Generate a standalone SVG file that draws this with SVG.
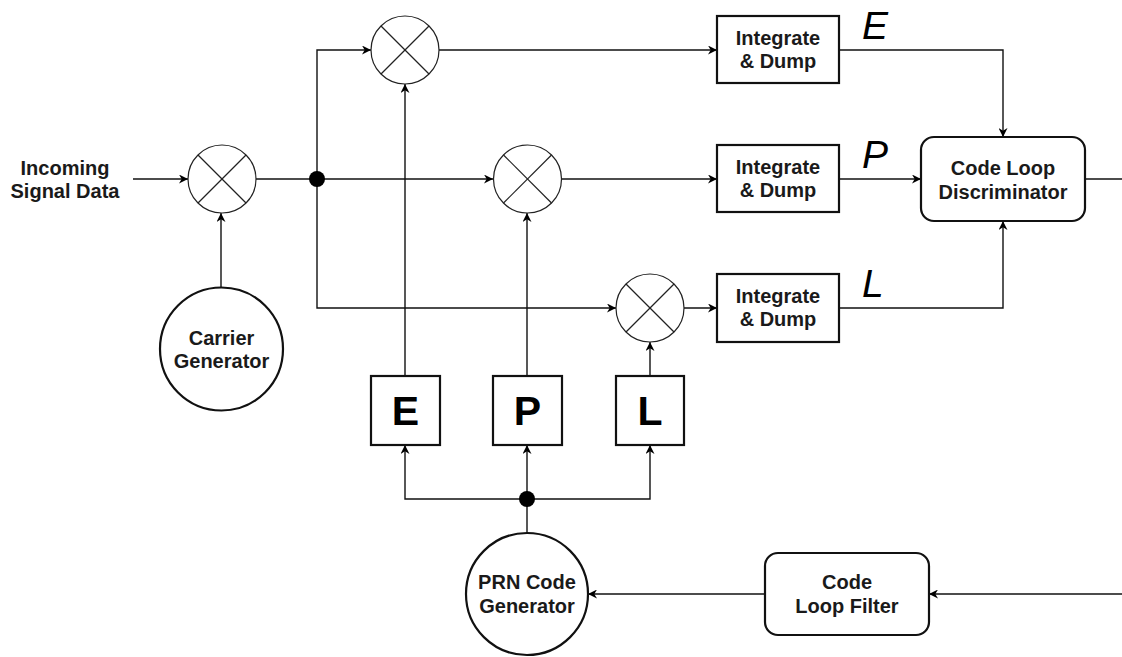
<svg xmlns="http://www.w3.org/2000/svg" width="1122" height="657" viewBox="0 0 1122 657">
<style>
.bg{fill:#fff}
.mix{fill:#fff;stroke:#222;stroke-width:1.2}
.mixx{stroke:#222;stroke-width:1.2}
.box{fill:#fff;stroke:#111;stroke-width:2.2}
.gen{fill:#fff;stroke:#111;stroke-width:2.2}
.conn{fill:none;stroke:#111;stroke-width:1.4}
.lbl{font-family:"Liberation Sans",Arial,sans-serif;font-weight:bold;font-size:20px;fill:#1a1a1a;text-anchor:middle}
.big{font-family:"Liberation Sans",Arial,sans-serif;font-weight:bold;font-size:41px;fill:#000;text-anchor:middle}
.it{font-family:"Liberation Sans",Arial,sans-serif;font-style:italic;font-size:39px;fill:#000}
.dot{fill:#000}
</style>
<defs>
<marker id="arr" viewBox="0 0 10 10" refX="10" refY="5" markerWidth="10" markerHeight="9" markerUnits="userSpaceOnUse" orient="auto">
<path d="M0,0 L10,5 L0,10 L3,5 z" fill="#000"/>
</marker>
</defs>
<rect class="bg" x="0" y="0" width="1122" height="657"/>

<g id="connectors">
<line class="conn" x1="133" y1="179" x2="188" y2="179" marker-end="url(#arr)"/>
<line class="conn" x1="221" y1="287" x2="221" y2="213" marker-end="url(#arr)"/>
<line class="conn" x1="256" y1="179" x2="493" y2="179" marker-end="url(#arr)"/>
<polyline class="conn" points="317,179 317,50 371,50" marker-end="url(#arr)"/>
<polyline class="conn" points="317,179 317,308 616,308" marker-end="url(#arr)"/>
<line class="conn" x1="439" y1="50" x2="717" y2="50" marker-end="url(#arr)"/>
<line class="conn" x1="562" y1="179" x2="717" y2="179" marker-end="url(#arr)"/>
<line class="conn" x1="684" y1="308" x2="717" y2="308" marker-end="url(#arr)"/>
<line class="conn" x1="405" y1="376" x2="405" y2="84" marker-end="url(#arr)"/>
<line class="conn" x1="527" y1="376" x2="527" y2="213" marker-end="url(#arr)"/>
<line class="conn" x1="650" y1="376" x2="650" y2="342" marker-end="url(#arr)"/>
<polyline class="conn" points="839,50 1003,50 1003,137" marker-end="url(#arr)"/>
<line class="conn" x1="839" y1="179" x2="921" y2="179" marker-end="url(#arr)"/>
<polyline class="conn" points="839,308 1003,308 1003,221" marker-end="url(#arr)"/>
<line class="conn" x1="1085" y1="179" x2="1122" y2="179"/>
<line class="conn" x1="527" y1="533" x2="527" y2="499"/>
<polyline class="conn" points="527,499 405,499 405,445" marker-end="url(#arr)"/>
<line class="conn" x1="527" y1="499" x2="527" y2="445" marker-end="url(#arr)"/>
<polyline class="conn" points="527,499 650,499 650,445" marker-end="url(#arr)"/>
<line class="conn" x1="1122" y1="594" x2="929" y2="594" marker-end="url(#arr)"/>
<line class="conn" x1="765" y1="594" x2="588" y2="594" marker-end="url(#arr)"/>
<circle class="dot" cx="317" cy="179" r="8"/>
<circle class="dot" cx="527" cy="499" r="8"/>
</g>

<g id="input-label">
<text class="lbl" x="65" y="175">Incoming</text>
<text class="lbl" x="65" y="198">Signal Data</text>
</g>

<g id="mixer-carrier">
<circle class="mix" cx="222" cy="179" r="34"/>
<line class="mixx" x1="198" y1="155" x2="246" y2="203"/>
<line class="mixx" x1="246" y1="155" x2="198" y2="203"/>
</g>
<g id="mixer-e">
<circle class="mix" cx="405" cy="50" r="34"/>
<line class="mixx" x1="381" y1="26" x2="429" y2="74"/>
<line class="mixx" x1="429" y1="26" x2="381" y2="74"/>
</g>
<g id="mixer-p">
<circle class="mix" cx="527.5" cy="179" r="34"/>
<line class="mixx" x1="503.5" y1="155" x2="551.5" y2="203"/>
<line class="mixx" x1="551.5" y1="155" x2="503.5" y2="203"/>
</g>
<g id="mixer-l">
<circle class="mix" cx="650" cy="308" r="34"/>
<line class="mixx" x1="626" y1="284" x2="674" y2="332"/>
<line class="mixx" x1="674" y1="284" x2="626" y2="332"/>
</g>

<g id="carrier-generator">
<circle class="gen" cx="221.5" cy="349" r="61.5"/>
<text class="lbl" x="221.5" y="345">Carrier</text>
<text class="lbl" x="221.5" y="368">Generator</text>
</g>

<g id="id-e">
<rect class="box" x="717" y="16" width="122" height="67"/>
<text class="lbl" x="778" y="45">Integrate</text>
<text class="lbl" x="778" y="68">&amp; Dump</text>
</g>
<g id="id-p">
<rect class="box" x="717" y="145" width="122" height="67"/>
<text class="lbl" x="778" y="174">Integrate</text>
<text class="lbl" x="778" y="197">&amp; Dump</text>
</g>
<g id="id-l">
<rect class="box" x="717" y="274" width="122" height="68"/>
<text class="lbl" x="778" y="303">Integrate</text>
<text class="lbl" x="778" y="326">&amp; Dump</text>
</g>

<g id="labels-epl">
<text class="it" x="862" y="39">E</text>
<text class="it" x="862" y="168">P</text>
<text class="it" x="862" y="297">L</text>
</g>

<g id="discriminator">
<rect class="box" x="921" y="137" width="164" height="84" rx="13"/>
<text class="lbl" x="1003" y="175">Code Loop</text>
<text class="lbl" x="1003" y="199">Discriminator</text>
</g>

<g id="box-e">
<rect class="box" x="371" y="376" width="69" height="69"/>
<text class="big" x="405.5" y="424.5">E</text>
</g>
<g id="box-p">
<rect class="box" x="493" y="376" width="69" height="69"/>
<text class="big" x="527.5" y="424.5">P</text>
</g>
<g id="box-l">
<rect class="box" x="616" y="376" width="68" height="69"/>
<text class="big" x="650" y="424.5">L</text>
</g>

<g id="prn-generator">
<circle class="gen" cx="527" cy="594" r="61"/>
<text class="lbl" x="527" y="589">PRN Code</text>
<text class="lbl" x="527" y="613">Generator</text>
</g>

<g id="code-loop-filter">
<rect class="box" x="765" y="553" width="164" height="82" rx="13"/>
<text class="lbl" x="847" y="589">Code</text>
<text class="lbl" x="847" y="613">Loop Filter</text>
</g>
</svg>
